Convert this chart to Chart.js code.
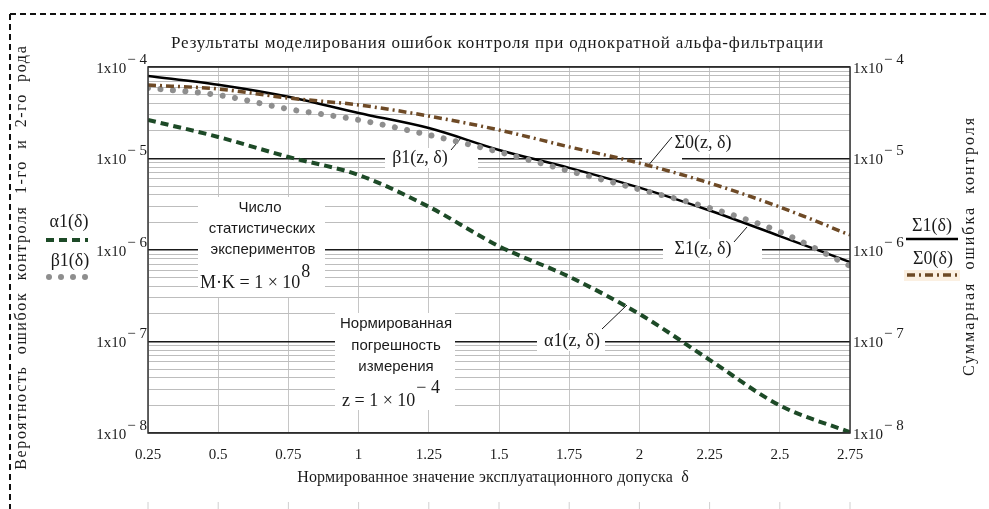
<!DOCTYPE html>
<html lang="ru">
<head>
<meta charset="UTF-8" />
<title>Результаты моделирования ошибок контроля</title>
<script src="https://cdn.jsdelivr.net/npm/chart.js"></script>
<style>
  html, body { margin: 0; padding: 0; background: #fff; }
  canvas { display: block; }
</style>
</head>
<body>
<canvas id="chart" width="989" height="509"></canvas>
<script>
// normalised tolerance delta
const delta = [0.25, 0.5, 0.75, 1, 1.25, 1.5, 1.75, 2, 2.25, 2.5, 2.75];
const xTickLabels = ['0.25', '0.5', '0.75', '1', '1.25', '1.5', '1.75', '2', '2.25', '2.5', '2.75'];
// error probabilities
const alpha1 = [2.64e-5, 1.72e-5, 1.04e-5, 6.6e-6, 2.97e-6, 1.1e-6, 5.1e-7, 2.0e-7, 6.3e-8, 2.0e-8, 1.02e-8];
const beta1  = [5.9e-5, 4.94e-5, 3.47e-5, 2.64e-5, 1.81e-5, 1.18e-5, 7.3e-6, 4.6e-6, 2.88e-6, 1.58e-6, 6.7e-7];
const sigma1 = [8.0e-5, 6.4e-5, 4.73e-5, 3.14e-5, 2.15e-5, 1.24e-5, 7.9e-6, 4.8e-6, 2.7e-6, 1.42e-6, 7.4e-7];
const sigma0 = [6.36e-5, 5.75e-5, 4.58e-5, 3.85e-5, 2.91e-5, 2.05e-5, 1.34e-5, 8.9e-6, 5.4e-6, 2.95e-6, 1.46e-6];
// decades on the y axis
const yExps = [-4, -5, -6, -7, -8];

const SERIF = '"Liberation Serif", "DejaVu Serif", serif';
const SANS = '"Liberation Sans", Arial, sans-serif';
const INK = '#1a1a1a';
const GREEN = '#1d4a27';
const GRAY = '#8e8e8e';
const BROWN = '#6e4a26';

function pts(ys) { return delta.map((d, i) => ({ x: d, y: ys[i] })); }

function spaced(ctx, text, cx, cy, width) {
  ctx.letterSpacing = '0px';
  const w = ctx.measureText(text).width;
  const sp = (width - w) / Math.max(1, text.length);
  ctx.letterSpacing = sp.toFixed(2) + 'px';
  ctx.fillText(text, cx + sp / 2, cy);
  ctx.letterSpacing = '0px';
}

// text followed by a raised exponent, left aligned at x
function supText(ctx, main, sup, x, y, size, rise) {
  ctx.textAlign = 'left'; ctx.textBaseline = 'middle';
  ctx.font = size + 'px ' + SERIF;
  const mw = ctx.measureText(main).width;
  ctx.fillText(main, x, y);
  ctx.fillText(sup, x + mw + 1, y - rise);
  return mw + 1 + ctx.measureText(sup).width;
}

// "1x10" with raised exponent; side = 'left' (right aligned at x) or 'right' (left aligned at x)
function pow10(ctx, x, y, exp, side) {
  const sup = '\u2212 ' + Math.abs(exp);
  ctx.font = '15px ' + SERIF;
  const w = ctx.measureText('1x10').width + 1 + ctx.measureText(sup).width;
  const x0 = side === 'left' ? x - w : x;
  supText(ctx, '1x10', sup, x0, y + 2, 15, 9);
}

function line(ctx, x1, y1, x2, y2, w, color, dash) {
  ctx.save();
  ctx.strokeStyle = color; ctx.lineWidth = w;
  ctx.setLineDash(dash || []);
  ctx.beginPath(); ctx.moveTo(x1, y1); ctx.lineTo(x2, y2); ctx.stroke();
  ctx.restore();
}

function label(ctx, text, cx, cy, font) {
  ctx.font = font; ctx.textAlign = 'center'; ctx.textBaseline = 'middle';
  ctx.fillText(text, cx, cy);
}

const deco = {
  id: 'deco',
  beforeDraw(chart) {
    const ctx = chart.ctx, a = chart.chartArea, xs = chart.scales.x, ys = chart.scales.y;
    ctx.save();
    ctx.fillStyle = '#fff';
    ctx.fillRect(0, 0, chart.width, chart.height);
    // dashed page frame
    line(ctx, 10, 14, chart.width, 14, 2, '#111', [6, 4]);
    line(ctx, 10, 14, 10, chart.height, 2, '#111', [6, 4]);

    ctx.fillStyle = INK;
    // title
    ctx.font = '17px ' + SERIF; ctx.textAlign = 'center'; ctx.textBaseline = 'middle';
    spaced(ctx, 'Результаты моделирования ошибок контроля при однократной альфа-фильтрации', 497, 44, 653);

    // y tick labels on both sides
    yExps.forEach(e => {
      const y = ys.getPixelForValue(Math.pow(10, e));
      pow10(ctx, a.left - 1, y, e, 'left');
      pow10(ctx, a.right + 3, y, e, 'right');
    });
    // x tick labels
    ctx.font = '15px ' + SERIF; ctx.textAlign = 'center'; ctx.textBaseline = 'middle';
    delta.forEach((d, i) => {
      ctx.fillText(xTickLabels[i], xs.getPixelForValue(d), a.bottom + 22);
    });
    ctx.font = '16px ' + SERIF;
    spaced(ctx, 'Нормированное значение эксплуатационного допуска  δ', 493, a.bottom + 45, 392);
    // faint marks at the bottom edge
    delta.forEach(d => {
      const x = xs.getPixelForValue(d);
      line(ctx, x, chart.height - 7, x, chart.height, 1, '#d0d0d0');
    });

    // axis titles
    ctx.save();
    ctx.translate(22, 258); ctx.rotate(-Math.PI / 2);
    ctx.font = '16px ' + SERIF; ctx.textAlign = 'center'; ctx.textBaseline = 'middle';
    spaced(ctx, 'Вероятность  ошибок  контроля  1-го  и  2-го  рода', 0, 0, 425);
    ctx.restore();
    ctx.save();
    ctx.translate(970, 247); ctx.rotate(-Math.PI / 2);
    ctx.font = '16px ' + SERIF; ctx.textAlign = 'center'; ctx.textBaseline = 'middle';
    spaced(ctx, 'Суммарная  ошибка  контроля', 0, 0, 260);
    ctx.restore();

    // left legend
    label(ctx, 'α1(δ)', 69, 222, '18px ' + SERIF);
    line(ctx, 46, 240, 88, 240, 4, GREEN, [8, 5]);
    label(ctx, 'β1(δ)', 70, 261, '18px ' + SERIF);
    ctx.fillStyle = GRAY;
    [49, 61, 73, 85].forEach(x => { ctx.beginPath(); ctx.arc(x, 277, 3, 0, Math.PI * 2); ctx.fill(); });
    ctx.fillStyle = INK;
    // right legend
    label(ctx, 'Σ1(δ)', 932, 226, '18px ' + SERIF);
    line(ctx, 906, 239, 958, 239, 2.5, '#000');
    label(ctx, 'Σ0(δ)', 933, 259, '18px ' + SERIF);
    ctx.fillStyle = '#fbf0e2';
    ctx.fillRect(904, 270, 56, 11);
    line(ctx, 907, 275, 958, 275, 3.5, BROWN, [8, 4, 2, 4]);
    ctx.restore();
  },
  beforeDatasetsDraw(chart) {
    const ctx = chart.ctx;
    ctx.save();
    ctx.fillStyle = '#fff';
    // label backgrounds
    ctx.fillRect(198, 197, 127, 100);
    ctx.fillRect(335, 313, 120, 97);
    ctx.fillRect(385, 148, 93, 20);
    ctx.fillRect(642, 154, 40, 8);
    ctx.fillRect(664, 132, 76, 22);
    ctx.fillRect(663, 239, 99, 21);
    ctx.fillRect(537, 330, 68, 21);

    ctx.fillStyle = INK;
    label(ctx, 'Число', 260, 208, '15px ' + SANS);
    label(ctx, 'статистических', 262, 229, '15px ' + SANS);
    label(ctx, 'экспериментов', 263, 250, '15px ' + SANS);
    supText(ctx, 'M·K = 1 × 10', '8', 200, 283, 18, 11);

    label(ctx, 'Нормированная', 396, 324, '15px ' + SANS);
    label(ctx, 'погрешность', 396, 346, '15px ' + SANS);
    label(ctx, 'измерения', 396, 367, '15px ' + SANS);
    supText(ctx, 'z = 1 × 10', '\u2212 4', 342, 401, 18, 13);

    label(ctx, 'β1(z, δ)', 420, 158, '18px ' + SERIF);
    label(ctx, 'Σ0(z, δ)', 703, 143, '18px ' + SERIF);
    label(ctx, 'Σ1(z, δ)', 703, 249, '18px ' + SERIF);
    label(ctx, 'α1(z, δ)', 572, 341, '18px ' + SERIF);
    line(ctx, 451, 150, 461, 138, 1, INK);
    line(ctx, 672, 137, 647, 167, 1, INK);
    line(ctx, 734, 242, 747, 227, 1, INK);
    line(ctx, 602, 329, 627, 305, 1, INK);
    ctx.restore();
  },
  afterDatasetsDraw(chart) {
    const ctx = chart.ctx, a = chart.chartArea;
    ctx.save();
    ctx.strokeStyle = '#333'; ctx.lineWidth = 1.5;
    ctx.strokeRect(a.left, a.top, a.right - a.left, a.bottom - a.top);
    ctx.restore();
  }
};

new Chart(document.getElementById('chart'), {
  type: 'line',
  data: {
    datasets: [
      { label: 'Σ0(δ)', data: pts(sigma0), borderColor: BROWN, borderWidth: 3.5, borderDash: [8, 4, 2, 4] },
      { label: 'β1(δ)', data: pts(beta1), borderColor: GRAY, borderWidth: 6, borderDash: [0.01, 12.5], borderCapStyle: 'round' },
      { label: 'Σ1(δ)', data: pts(sigma1), borderColor: '#000', borderWidth: 2.5 },
      { label: 'α1(δ)', data: pts(alpha1), borderColor: GREEN, borderWidth: 4, borderDash: [8, 5] }
    ]
  },
  options: {
    responsive: false,
    animation: false,
    devicePixelRatio: 1,
    layout: { padding: { left: 148, right: 139, top: 67, bottom: 76 } },
    elements: { point: { radius: 0 }, line: { cubicInterpolationMode: 'monotone', fill: false } },
    plugins: { legend: { display: false }, tooltip: { enabled: false } },
    scales: {
      x: {
        type: 'linear', min: 0.25, max: 2.75,
        ticks: { display: false, stepSize: 0.25 },
        grid: { color: '#c6c6c6', lineWidth: 1, drawTicks: false },
        border: { display: false },
        afterFit(s) { s.height = 0; }
      },
      y: {
        type: 'logarithmic', min: 1e-8, max: 1e-4,
        ticks: { display: false },
        afterBuildTicks(s) {
          const t = [];
          for (let e = -8; e <= -4; e++) {
            for (let m = 1; m <= 9; m++) {
              const v = m * Math.pow(10, e);
              if (v > 1e-4 * 1.0001) break;
              t.push({ value: v, major: m === 1 });
            }
          }
          s.ticks = t;
        },
        grid: {
          drawTicks: false,
          color: c => (c.tick && c.tick.major ? '#1a1a1a' : '#bdbdbd'),
          lineWidth: c => (c.tick && c.tick.major ? 1.5 : 1)
        },
        border: { display: false },
        afterFit(s) { s.width = 0; }
      }
    }
  },
  plugins: [deco]
});
</script>
</body>
</html>
